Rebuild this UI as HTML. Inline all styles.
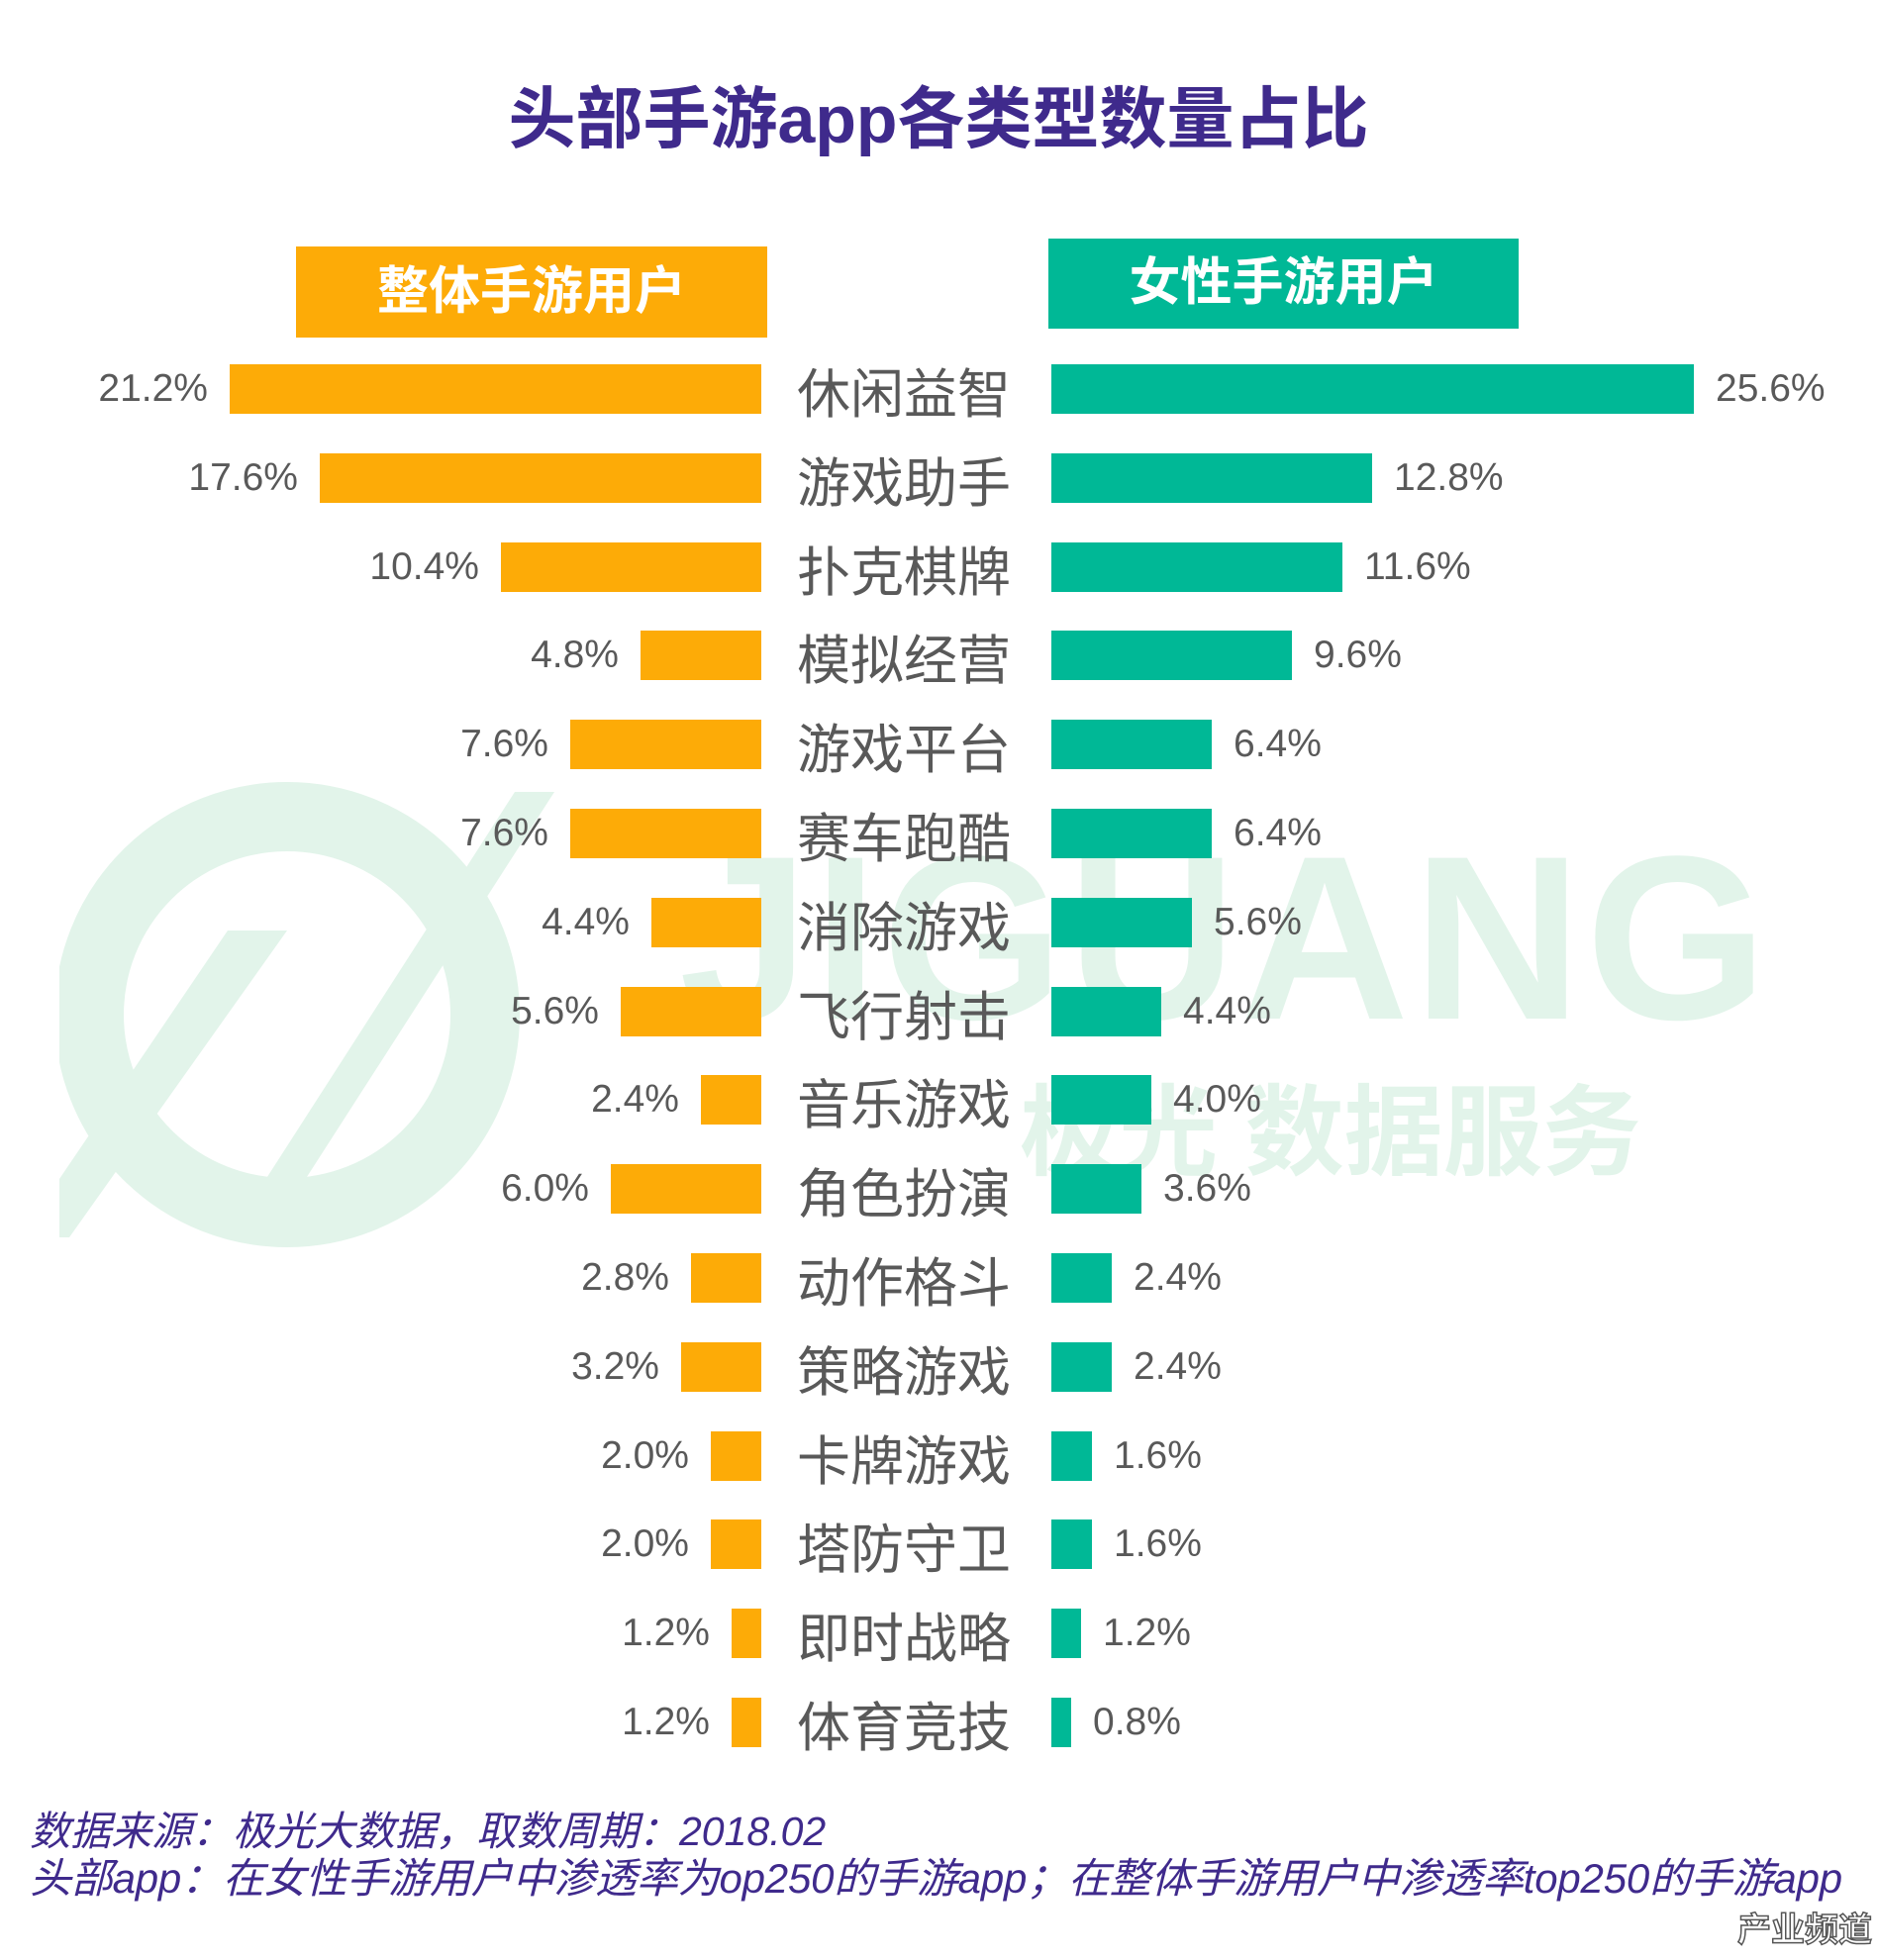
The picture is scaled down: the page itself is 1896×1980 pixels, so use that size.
<!DOCTYPE html>
<html><head><meta charset="utf-8"><style>
body{margin:0;width:1896px;height:1980px;background:#fff;position:relative;overflow:hidden;font-family:"Liberation Sans","Noto Sans CJK SC",sans-serif;}
.abs{position:absolute}
.row{position:absolute;left:0;width:1896px;height:50px}
.l{position:absolute;right:1127px;top:0;height:50px;display:flex;align-items:center}
.l span,.r span{font-size:39px;color:#595959;line-height:50px}
.l i{display:block;height:50px;background:#FDAB07;margin-left:22px}
.r{position:absolute;left:1062px;top:0;height:50px;display:flex;align-items:center}
.r i{display:block;height:50px;background:#00B896;margin-right:22px}
.c{position:absolute;left:800px;width:226px;top:-4px;text-align:center;font-size:54px;line-height:60px;color:#595959;font-family:"Noto Sans CJK SC",sans-serif;white-space:nowrap}
.wm{color:#e2f4ea;font-weight:bold;font-family:"Liberation Sans","Noto Sans CJK SC",sans-serif}
</style></head><body>
<svg class="abs" style="left:0;top:780px" width="560" height="500">
<circle cx="290" cy="245" r="200" fill="none" stroke="#e2f4ea" stroke-width="70"/>
<polygon points="20,470 230,160 290,160 70,470" fill="#e2f4ea"/>
<polygon points="250,440 520,20 560,20 290,440" fill="#e2f4ea"/>
<rect x="0" y="0" width="60" height="500" fill="#fff"/>
</svg>
<div class="abs wm" style="left:686px;top:830px;font-size:236px;line-height:236px;letter-spacing:4px">JIGUANG</div>
<div class="abs wm" style="left:1030px;top:1090px;font-size:100px;line-height:110px">极光 数据服务</div>

<div class="abs" style="left:0;width:1896px;top:76px;text-align:center;font-size:68px;line-height:90px;font-weight:bold;color:#3f2a8c">头部手游app各类型数量占比</div>
<div class="abs" style="left:299px;top:249px;width:476px;height:92px;background:#FDAB07;color:#fff;font-size:52px;font-weight:bold;text-align:center;line-height:92px">整体手游用户</div>
<div class="abs" style="left:1059px;top:241px;width:475px;height:91px;background:#00B896;color:#fff;font-size:52px;font-weight:bold;text-align:center;line-height:91px">女性手游用户</div>

<div class="row" style="top:368px"><div class="l"><span>21.2%</span><i style="width:537px"></i></div><div class="c">休闲益智</div><div class="r"><i style="width:649px"></i><span>25.6%</span></div></div>
<div class="row" style="top:458px"><div class="l"><span>17.6%</span><i style="width:446px"></i></div><div class="c">游戏助手</div><div class="r"><i style="width:324px"></i><span>12.8%</span></div></div>
<div class="row" style="top:548px"><div class="l"><span>10.4%</span><i style="width:263px"></i></div><div class="c">扑克棋牌</div><div class="r"><i style="width:294px"></i><span>11.6%</span></div></div>
<div class="row" style="top:637px"><div class="l"><span>4.8%</span><i style="width:122px"></i></div><div class="c">模拟经营</div><div class="r"><i style="width:243px"></i><span>9.6%</span></div></div>
<div class="row" style="top:727px"><div class="l"><span>7.6%</span><i style="width:193px"></i></div><div class="c">游戏平台</div><div class="r"><i style="width:162px"></i><span>6.4%</span></div></div>
<div class="row" style="top:817px"><div class="l"><span>7.6%</span><i style="width:193px"></i></div><div class="c">赛车跑酷</div><div class="r"><i style="width:162px"></i><span>6.4%</span></div></div>
<div class="row" style="top:907px"><div class="l"><span>4.4%</span><i style="width:111px"></i></div><div class="c">消除游戏</div><div class="r"><i style="width:142px"></i><span>5.6%</span></div></div>
<div class="row" style="top:997px"><div class="l"><span>5.6%</span><i style="width:142px"></i></div><div class="c">飞行射击</div><div class="r"><i style="width:111px"></i><span>4.4%</span></div></div>
<div class="row" style="top:1086px"><div class="l"><span>2.4%</span><i style="width:61px"></i></div><div class="c">音乐游戏</div><div class="r"><i style="width:101px"></i><span>4.0%</span></div></div>
<div class="row" style="top:1176px"><div class="l"><span>6.0%</span><i style="width:152px"></i></div><div class="c">角色扮演</div><div class="r"><i style="width:91px"></i><span>3.6%</span></div></div>
<div class="row" style="top:1266px"><div class="l"><span>2.8%</span><i style="width:71px"></i></div><div class="c">动作格斗</div><div class="r"><i style="width:61px"></i><span>2.4%</span></div></div>
<div class="row" style="top:1356px"><div class="l"><span>3.2%</span><i style="width:81px"></i></div><div class="c">策略游戏</div><div class="r"><i style="width:61px"></i><span>2.4%</span></div></div>
<div class="row" style="top:1446px"><div class="l"><span>2.0%</span><i style="width:51px"></i></div><div class="c">卡牌游戏</div><div class="r"><i style="width:41px"></i><span>1.6%</span></div></div>
<div class="row" style="top:1535px"><div class="l"><span>2.0%</span><i style="width:51px"></i></div><div class="c">塔防守卫</div><div class="r"><i style="width:41px"></i><span>1.6%</span></div></div>
<div class="row" style="top:1625px"><div class="l"><span>1.2%</span><i style="width:30px"></i></div><div class="c">即时战略</div><div class="r"><i style="width:30px"></i><span>1.2%</span></div></div>
<div class="row" style="top:1715px"><div class="l"><span>1.2%</span><i style="width:30px"></i></div><div class="c">体育竞技</div><div class="r"><i style="width:20px"></i><span>0.8%</span></div></div>

<div class="abs" style="left:30px;top:1826px;font-size:41px;line-height:48px;font-style:italic;color:#3f2a8c;white-space:nowrap">数据来源：极光大数据，取数周期：2018.02</div>
<div class="abs" style="left:30px;top:1874px;font-size:42px;line-height:48px;font-style:italic;color:#3f2a8c;white-space:nowrap;letter-spacing:-0.2px">头部app：在女性手游用户中渗透率为op250的手游app；在整体手游用户中渗透率top250的手游app</div>
<div class="abs" style="left:1755px;top:1930px;font-size:34px;line-height:40px;color:#fff;font-weight:bold;-webkit-text-stroke:1.5px #555;white-space:nowrap">产业频道</div>
</body></html>
